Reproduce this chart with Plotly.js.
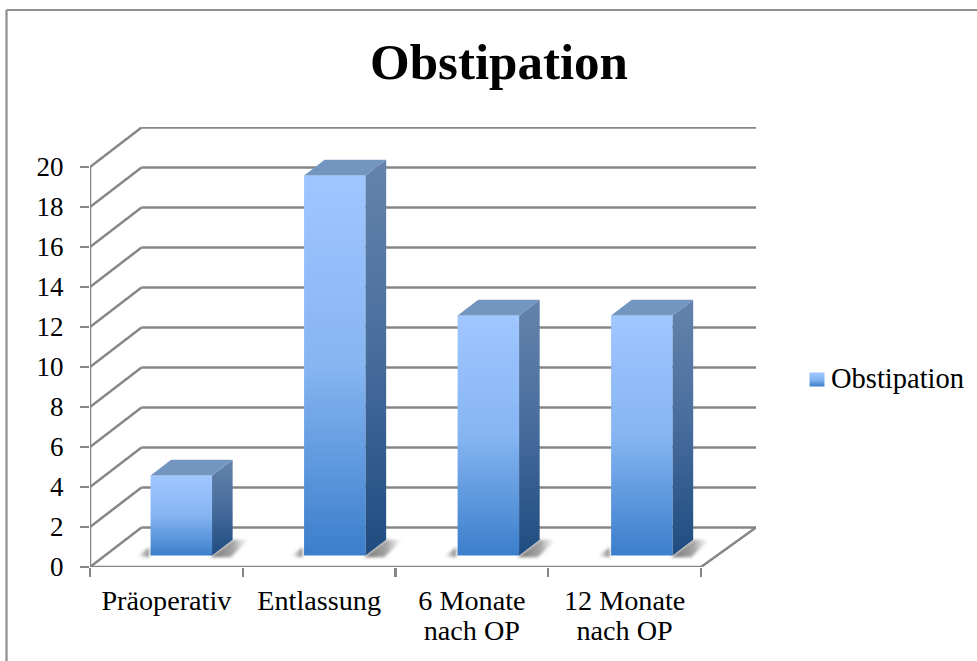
<!DOCTYPE html>
<html>
<head>
<meta charset="utf-8">
<script src="https://cdn.plot.ly/plotly-3.0.0.min.js"></script>
<style>html,body{margin:0;padding:0;background:#fff}</style>
</head>
<body>
<div id="chart" style="width:977px;height:661px"></div>
<script>
const categories = ["Präoperativ", "Entlassung", "6 Monate<br>nach OP", "12 Monate<br>nach OP"];
const seriesName = "Obstipation";
const values = [4, 19, 12, 12];
const yTicks = [0, 2, 4, 6, 8, 10, 12, 14, 16, 18, 20];

// oblique projection of the depth axis, in data units
const depthX = 0.337, depthY = 1.975;
const barStart = 0.29, barDepth = 0.40, barWidth = 0.4026, barStep = 1.005;
const xL = -0.5, xR = 3.5, xEnd = 3.86;
const gridColor = "#868686";
const font = "'Liberation Serif', serif";

const idx = categories.map((_, i) => i);
const frontX = idx.map(i => i * barStep + barStart * depthX);
const base = barStart * depthY;
const ddx = barDepth * depthX, ddy = barDepth * depthY;

const traces = [{
  type: "bar", name: seriesName, x: frontX, y: values, base: idx.map(() => base),
  width: barWidth, marker: {color: "#6fa5e8", line: {width: 0}},
  showlegend: true, hoverinfo: "skip"
}];

values.forEach((v, i) => {
  const l = frontX[i] - barWidth / 2, r = frontX[i] + barWidth / 2;
  // floor shadow
  traces.push({
    type: "scatter", mode: "lines", line: {width: 0}, fill: "toself", showlegend: false, hoverinfo: "skip",
    x: [r - 0.01, r + ddx, r + ddx * 1.8, r + ddx * 0.9, r - 0.01],
    y: [base - 0.08, base + ddy, base + ddy * 1.0, base - 0.08, base - 0.08],
    fillgradient: {type: "horizontal", colorscale: [[0, "rgba(50,50,50,0.7)"], [0.6, "rgba(80,80,80,0.5)"], [1, "rgba(150,150,150,0)"]]}
  });
  traces.push({
    type: "scatter", mode: "lines", line: {width: 0}, fill: "toself", showlegend: false, hoverinfo: "skip",
    x: [l - 0.09, l - 0.01, l - 0.01, l - 0.09],
    y: [base - 0.03, base + 0.4, base - 0.08, base - 0.03],
    fillgradient: {type: "horizontal", colorscale: [[0, "rgba(120,120,120,0)"], [1, "rgba(60,60,60,0.65)"]]}
  });
  // side face
  traces.push({
    type: "scatter", mode: "lines", line: {width: 0}, fill: "toself", showlegend: false, hoverinfo: "skip",
    x: [r, r + ddx, r + ddx, r, r],
    y: [base, base + ddy, base + ddy + v, base + v, base],
    fillgradient: {type: "vertical", colorscale: [[0, "#1f4c80"], [0.55, "#4a6f9f"], [1, "#6583ab"]]}
  });
  // top face
  traces.push({
    type: "scatter", mode: "lines", line: {width: 0}, fill: "toself", fillcolor: "#7396c1", showlegend: false, hoverinfo: "skip",
    x: [l, r, r + ddx, l + ddx, l],
    y: [base + v, base + v, base + v + ddy, base + v + ddy, base + v]
  });
});

const ln = (x0, y0, x1, y1) => ({type: "line", xref: "x", yref: "y", x0, y0, x1, y1, layer: "below", line: {color: gridColor, width: 2.5}});
const shapes = [];
yTicks.forEach(v => {
  shapes.push(ln(xL, v, xL + depthX, v + depthY));
  shapes.push(ln(xL + depthX, v + depthY, xEnd, v + depthY));
});
shapes.push(ln(xR, 0, xEnd, depthY));
shapes.push(ln(xL, 0, xR, 0));
shapes.push(ln(xL, 0, xL, yTicks[yTicks.length - 1]));
// chart frame: only its left and top edges fall inside the picture
const frame = {type: "line", xref: "paper", yref: "paper", layer: "below", line: {color: "#8e8e8e", width: 2.2}};
const fx = (6.5 - 90) / 666, fy = (567 - 10) / 440;
shapes.push(Object.assign({}, frame, {x0: fx, x1: fx, y0: -94 / 440, y1: fy}));
shapes.push(Object.assign({}, frame, {x0: fx, x1: (977 - 90) / 666, y0: fy, y1: fy}));

const layout = {
  width: 977, height: 661,
  margin: {l: 90, r: 221, t: 127, b: 94, autoexpand: false},
  paper_bgcolor: "#fff", plot_bgcolor: "rgba(0,0,0,0)",
  font: {family: font, size: 28, color: "#000"},
  title: {text: "<b>" + seriesName + "</b>", x: 499 / 977, xanchor: "center", y: 0.908, yanchor: "middle", font: {family: font, size: 51, color: "#000"}},
  xaxis: {
    type: "linear", range: [xL, xEnd], showgrid: false, zeroline: false, showline: false,
    tickmode: "array", tickvals: idx, ticktext: categories, ticks: "", tickangle: 0, ticklabelstandoff: 14,
    tickfont: {family: font, size: 28.2, color: "#000"},
    minor: {tickmode: "array", tickvals: [0, 1, 2, 3, 4].map(i => i - 0.5), ticks: "outside", ticklen: 9, tickwidth: 2.2, tickcolor: gridColor, showgrid: false}
  },
  yaxis: {
    range: [0, 22], showgrid: false, zeroline: false, showline: false,
    tickmode: "array", tickvals: yTicks, ticks: "outside", ticklen: 9, tickwidth: 2.2, tickcolor: gridColor,
    ticklabelstandoff: 11, tickfont: {family: font, size: 27, color: "#000"}
  },
  barmode: "overlay",
  legend: {x: (797 - 90) / 666, xanchor: "left", y: (567 - 380) / 440, yanchor: "middle", bgcolor: "rgba(0,0,0,0)", borderwidth: 0, font: {family: font, size: 28.5, color: "#000"}, itemwidth: 30},
  shapes,
  hovermode: false
};

Plotly.newPlot("chart", traces, layout, {displayModeBar: false, staticPlot: true}).then(gd => {
  const NS = "http://www.w3.org/2000/svg";
  const svg = gd.querySelector("svg.main-svg");
  const defs = svg.querySelector("defs");
  const g = document.createElementNS(NS, "linearGradient");
  g.setAttribute("id", "barFront");
  g.setAttribute("x1", "0"); g.setAttribute("y1", "0"); g.setAttribute("x2", "0"); g.setAttribute("y2", "1");
  [["0", "#a0c6ff"], ["0.5", "#86b5f2"], ["1", "#3b7ecb"]].forEach(([o, c]) => {
    const s = document.createElementNS(NS, "stop");
    s.setAttribute("offset", o); s.setAttribute("stop-color", c); g.appendChild(s);
  });
  defs.appendChild(g);
  const blur = document.createElementNS(NS, "filter");
  blur.setAttribute("id", "softShadow");
  blur.setAttribute("x", "-30%"); blur.setAttribute("y", "-30%"); blur.setAttribute("width", "160%"); blur.setAttribute("height", "160%");
  const fe = document.createElementNS(NS, "feGaussianBlur");
  fe.setAttribute("stdDeviation", "1.6");
  blur.appendChild(fe);
  defs.appendChild(blur);
  gd.querySelectorAll(".barlayer .point path").forEach(p => { p.style.fill = "url(#barFront)"; });
  gd.querySelectorAll(".scatterlayer .trace").forEach((t, i) => {
    if (i % 4 < 2) t.setAttribute("filter", "url(#softShadow)");
  });
  gd.querySelectorAll(".legend .legendpoints path").forEach(p => {
    p.style.fill = "url(#barFront)";
    p.setAttribute("d", "M7.5,7H-7.5V-7H7.5Z");
  });
  gd.querySelectorAll(".legend text.legendtext").forEach(t => {
    t.setAttribute("transform", "translate(-6,-2.5)");
  });
  gd.querySelectorAll(".xtick text tspan.line").forEach(t => {
    if (parseFloat(t.getAttribute("dy")) > 0) t.setAttribute("dy", "1.07em");
  });
});
</script>
</body>
</html>
